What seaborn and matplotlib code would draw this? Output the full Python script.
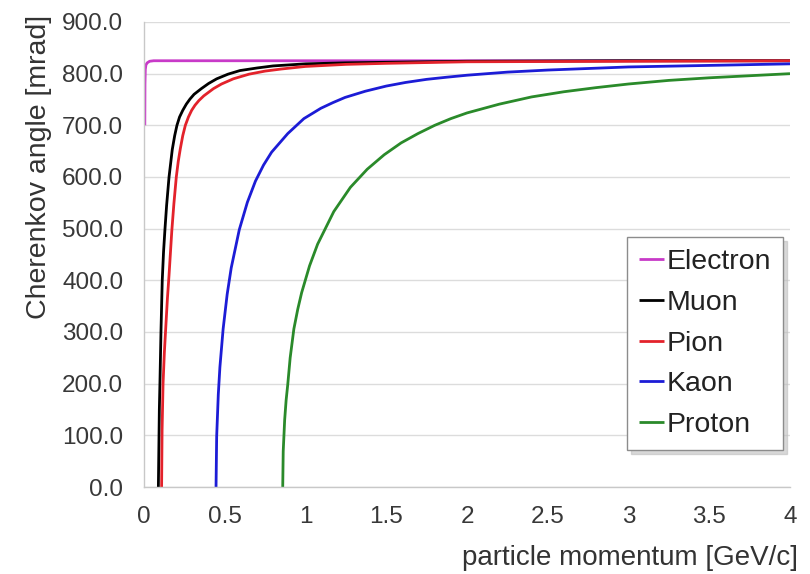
import matplotlib
matplotlib.use("Agg")
import matplotlib.pyplot as plt
import seaborn as sns
import pandas as pd
from matplotlib.ticker import FormatStrFormatter, FuncFormatter

# ---- data ----
particles = ["Electron", "Muon", "Pion", "Kaon", "Proton"]

electron_p = [0.005, 0.006, 0.008, 0.012, 0.02, 0.035, 0.06, 0.5, 1.0, 2.0, 3.0, 4.0]
electron_a = [700, 780, 808, 817, 821, 824, 825, 825, 825, 825, 825, 825]

muon_p = [0.089, 0.095, 0.099, 0.105, 0.113, 0.121, 0.130, 0.140, 0.155, 0.175, 0.190,
          0.204, 0.220, 0.240, 0.262, 0.285, 0.310, 0.355, 0.400, 0.450, 0.520, 0.594,
          0.700, 0.800, 1.000, 1.250, 1.500, 2.000, 3.000, 4.000]
muon_a = [0, 150, 206, 300, 400, 455, 500, 545, 600, 653, 680,
          700, 716, 729, 741, 751, 760, 771, 781, 790, 799, 806,
          811, 815, 819, 821, 822, 824, 825, 825]

pion_p = [0.109, 0.112, 0.118, 0.126, 0.135, 0.145, 0.155, 0.163, 0.172, 0.185, 0.200,
          0.212, 0.225, 0.240, 0.256, 0.275, 0.295, 0.316, 0.340, 0.370, 0.400, 0.430,
          0.480, 0.553, 0.650, 0.750, 0.850, 1.000, 1.250, 1.500, 2.000, 3.000, 4.000]
pion_a = [0, 110, 200, 260, 310, 365, 410, 450, 495, 548, 600,
          630, 655, 680, 700, 716, 729, 739, 748, 757, 764, 771,
          780, 790, 799, 805, 809, 814, 818, 820, 823, 824, 825]

kaon_p = [0.446, 0.450, 0.460, 0.470, 0.490, 0.515, 0.540, 0.590, 0.640, 0.690, 0.740,
          0.790, 0.890, 0.990, 1.095, 1.170, 1.245, 1.370, 1.500, 1.620, 1.750, 1.870,
          2.000, 2.250, 2.500, 2.750, 3.000, 3.500, 4.000]
kaon_a = [0, 98, 179, 232, 306, 373, 424, 498, 551, 592, 623,
          648, 684, 713, 733, 744, 754, 766, 776, 783, 789, 793,
          797, 803, 807, 810, 813, 816, 819]

proton_p = [0.859, 0.862, 0.871, 0.880, 0.890, 0.905, 0.928, 0.952, 0.976, 1.025, 1.075,
            1.175, 1.278, 1.382, 1.487, 1.592, 1.696, 1.800, 1.900, 2.000, 2.200, 2.400,
            2.600, 2.800, 3.000, 3.250, 3.500, 3.750, 4.000]
proton_a = [0, 69, 130, 168, 198, 250, 306, 344, 376, 428, 470,
            533, 580, 615, 643, 666, 684, 700, 713, 724, 741, 755,
            765, 773, 780, 787, 792, 796, 800]

colors = ["#c83ac8", "#000000", "#e3222b", "#1c1cd6", "#2a8a2a"]

x_ticks = [0, 0.5, 1, 1.5, 2, 2.5, 3, 3.5, 4]
y_ticks = [0, 100, 200, 300, 400, 500, 600, 700, 800, 900]

# ---- build long table ----
frames = []
for name, p, a in zip(particles,
                      [electron_p, muon_p, pion_p, kaon_p, proton_p],
                      [electron_a, muon_a, pion_a, kaon_a, proton_a]):
    frames.append(pd.DataFrame({"p": p, "angle": a, "particle": name}))
df = pd.concat(frames, ignore_index=True)

sns.set_theme(style="white")
plt.rcParams["font.family"] = ["Liberation Sans", "DejaVu Sans"]

fig = plt.figure(figsize=(8.1, 5.74), dpi=100)
ax = fig.add_axes([144 / 810, 1 - 487 / 574, (790 - 144) / 810, (487 - 22) / 574])

sns.lineplot(data=df, x="p", y="angle", hue="particle", hue_order=particles,
             palette=dict(zip(particles, colors)), estimator=None, sort=False,
             linewidth=2.0, ax=ax)
for ln in ax.get_lines():
    ln.set_solid_joinstyle("round")
    ln.set_solid_capstyle("butt")

ax.set_xlim(0, 4)
ax.set_ylim(0, 900)
ax.set_xticks(x_ticks)
ax.set_yticks(y_ticks)
ax.xaxis.set_major_formatter(FuncFormatter(lambda v, _: f"{v:g}"))
ax.yaxis.set_major_formatter(FormatStrFormatter("%.1f"))

ax.grid(axis="y", color="#dcdcdc", linewidth=1.0)
ax.grid(axis="x", visible=False)
ax.set_axisbelow(True)
for side in ["top", "right"]:
    ax.spines[side].set_visible(False)
for side in ["left", "bottom"]:
    ax.spines[side].set_color("#c8c8c8")
    ax.spines[side].set_linewidth(1.0)

ax.tick_params(axis="both", which="major", direction="out", length=5, width=1,
               color="#c8c8c8", labelsize=17.5, labelcolor="#383838")
ax.tick_params(axis="y", pad=10)
ax.tick_params(axis="x", pad=9)

ax.set_xlabel("particle momentum [GeV/c]", fontsize=20, color="#333333", loc="right")
ax.set_ylabel("Cherenkov angle [mrad]", fontsize=20.5, color="#333333", loc="top")
ax.xaxis.set_label_coords(1.0124, -0.125)
ax.yaxis.set_label_coords(-0.143, 1.015)

handles, labels = ax.get_legend_handles_labels()
leg = ax.legend(handles, labels, loc="upper right", bbox_to_anchor=(0.989, 0.5376),
                borderaxespad=0, fontsize=20.5, frameon=True, fancybox=False,
                shadow={"color": "0.75", "alpha": 0.6, "ox": 3, "oy": -3},
                handlelength=0.9, handletextpad=0.08, labelspacing=0.52,
                borderpad=0.42, edgecolor="#8c8c8c")
leg.get_frame().set_linewidth(1.0)
for t in leg.get_texts():
    t.set_color("#222222")

fig.savefig("out.png", dpi=100)
